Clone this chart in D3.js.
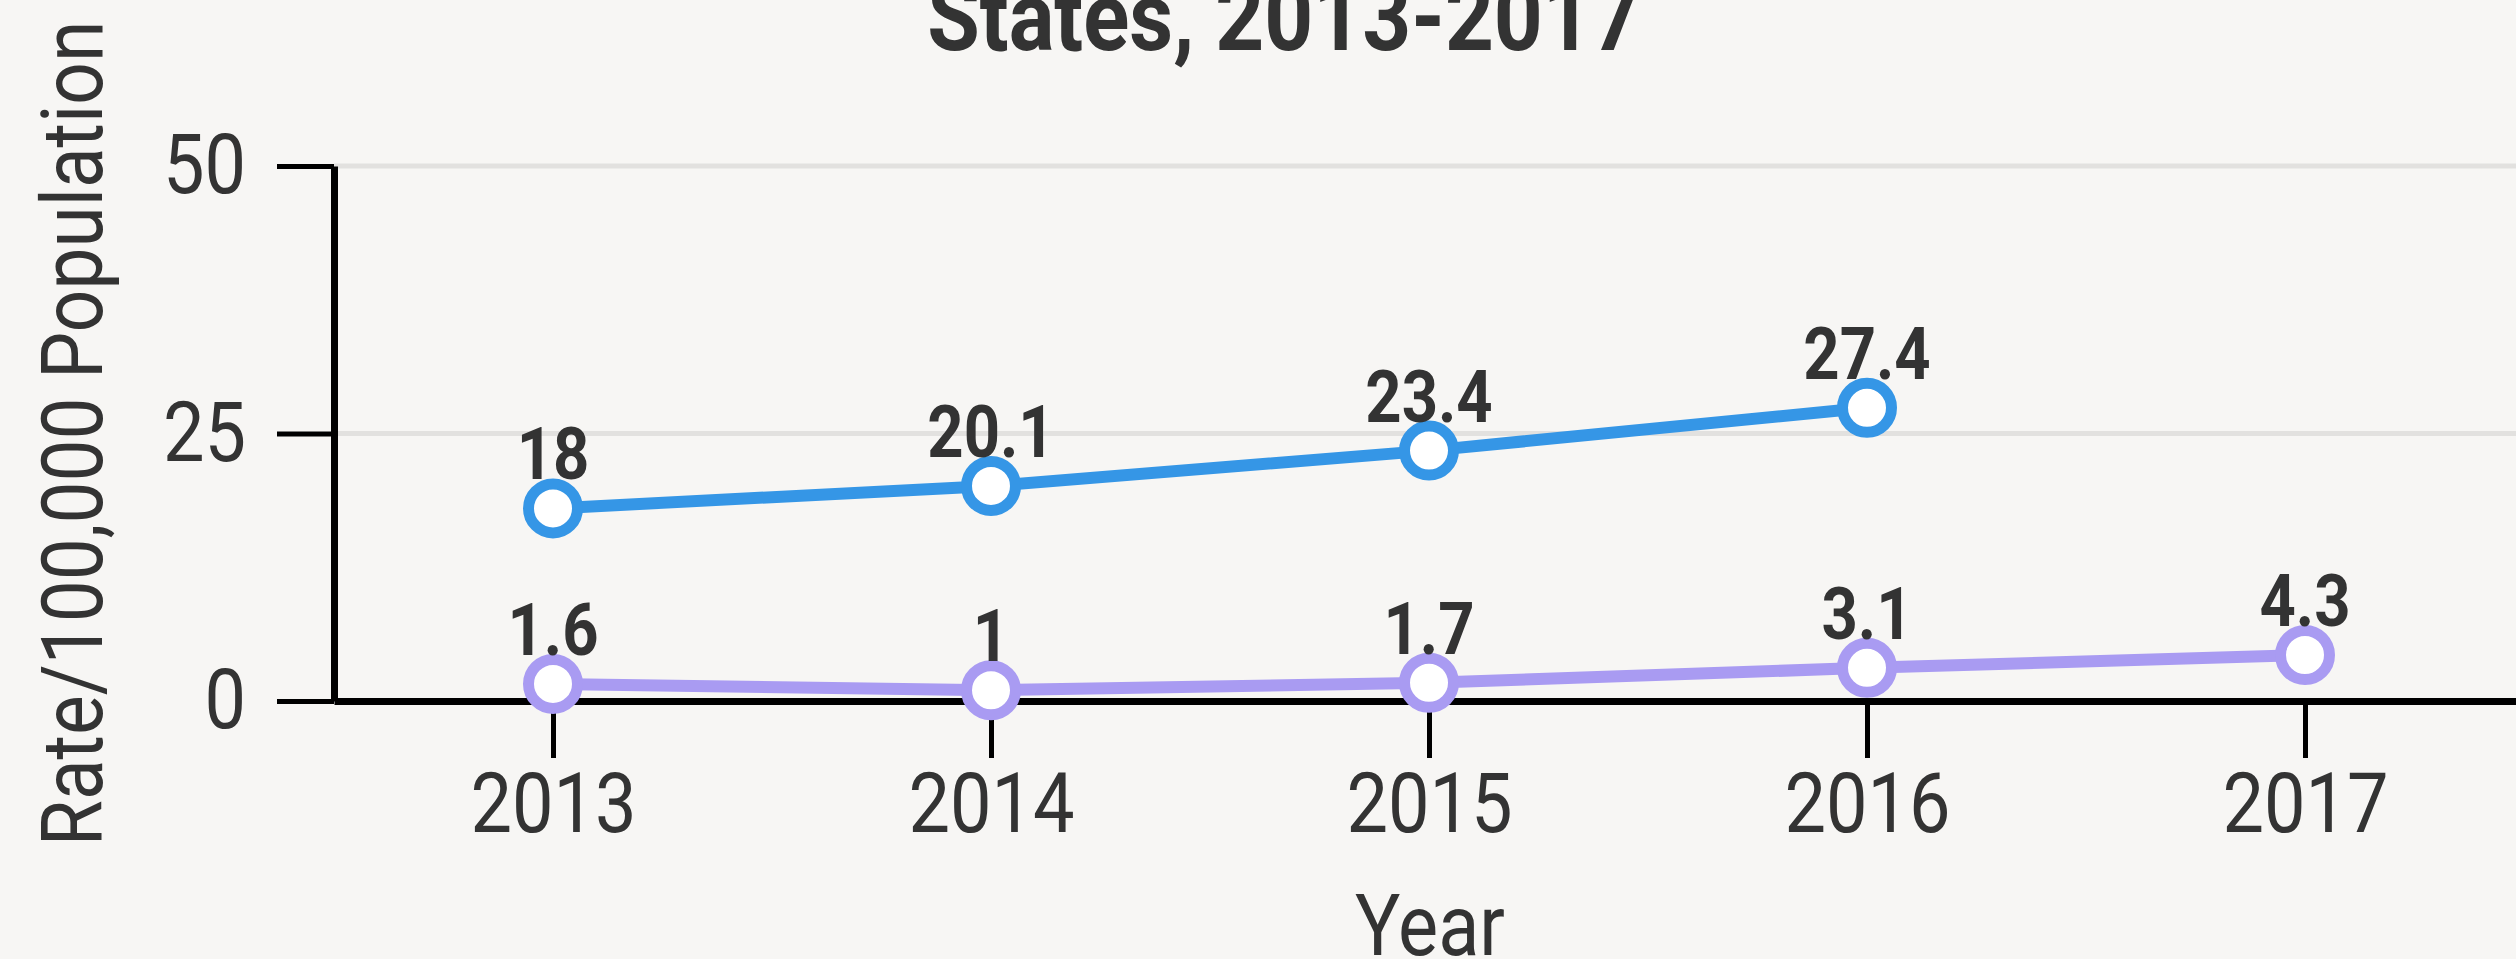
<!DOCTYPE html>
<html>
<head>
<meta charset="utf-8">
<script src="https://cdnjs.cloudflare.com/ajax/libs/d3/7.8.5/d3.min.js"></script>
<style>
  body { margin: 0; background: #f7f6f4; overflow: hidden; }
  text { font-family: Roboto, sans-serif; fill: #333; }
</style>
</head>
<body>
<svg id="chart"></svg>
<script>
// data
var years = [2013, 2014, 2015, 2016, 2017];
var rateBlue = [18, 20.1, 23.4, 27.4, null];
var ratePurple = [1.6, 1, 1.7, 3.1, 4.3];
var yTicks = [0, 25, 50];

var W = 2516, H = 959;
var squeeze = 0.88; // Roboto squeezed to look like the condensed face

var svg = d3.select("#chart")
  .attr("width", W)
  .attr("height", H);

svg.append("rect")
  .attr("width", W)
  .attr("height", H)
  .attr("fill", "#f7f6f4");

var x = d3.scalePoint()
  .domain(years)
  .range([334, 2524])
  .padding(0.5);

var y = d3.scaleLinear()
  .domain([0, 50])
  .range([701, 166]);

var condense = function(sel) {
  sel.each(function() {
    var w = this.getComputedTextLength();
    d3.select(this)
      .attr("textLength", w * squeeze)
      .attr("lengthAdjust", "spacingAndGlyphs");
  });
};

// grid lines
svg.append("g")
  .selectAll("line")
  .data(yTicks.filter(function(d) { return d > 0; }))
  .enter().append("line")
  .attr("x1", 334)
  .attr("x2", W)
  .attr("y1", function(d) { return y(d); })
  .attr("y2", function(d) { return y(d); })
  .attr("stroke", "#e2e1df")
  .attr("stroke-width", 5);

// axes
var xAxis = svg.append("g")
  .attr("transform", "translate(0," + y(0) + ")")
  .call(d3.axisBottom(x).tickSize(57).tickSizeOuter(0).tickPadding(14));

var yAxis = svg.append("g")
  .attr("transform", "translate(" + 334 + ",0)")
  .call(d3.axisLeft(y).tickValues(yTicks).tickSize(57).tickSizeOuter(0).tickPadding(31));

[xAxis, yAxis].forEach(function(g) {
  g.select(".domain").attr("stroke", "#000").attr("stroke-width", 7);
  g.selectAll(".tick line").attr("stroke", "#000").attr("stroke-width", 5);
  g.selectAll(".tick text")
    .attr("fill", "#333")
    .style("font-family", "Roboto, sans-serif")
    .style("font-size", "84px")
    .call(condense);
});

// lines and points
var series = [
  { values: rateBlue, color: "#3596e6" },
  { values: ratePurple, color: "#a99bf2" }
];

var line = d3.line()
  .defined(function(d) { return d.v != null; })
  .x(function(d) { return x(d.year); })
  .y(function(d) { return y(d.v); });

series.forEach(function(s) {
  var pts = years.map(function(yr, i) { return { year: yr, v: s.values[i] }; });
  var g = svg.append("g");

  g.append("path")
    .datum(pts)
    .attr("fill", "none")
    .attr("stroke", s.color)
    .attr("stroke-width", 12)
    .attr("d", line);

  var ok = pts.filter(function(d) { return d.v != null; });

  g.selectAll("circle")
    .data(ok)
    .enter().append("circle")
    .attr("cx", function(d) { return x(d.year); })
    .attr("cy", function(d) { return y(d.v); })
    .attr("r", 24.5)
    .attr("fill", "#fff")
    .attr("stroke", s.color)
    .attr("stroke-width", 11);

  g.selectAll("text")
    .data(ok)
    .enter().append("text")
    .attr("x", function(d) { return x(d.year); })
    .attr("y", function(d) { return y(d.v) - 29; })
    .attr("text-anchor", "middle")
    .style("font-size", "72px")
    .style("font-weight", "bold")
    .text(function(d) { return d.v; })
    .call(condense);
});

// title and axis titles
svg.append("text")
  .attr("x", 1284)
  .attr("y", 50)
  .attr("text-anchor", "middle")
  .style("font-size", "97px")
  .style("font-weight", "bold")
  .text("States, 2013-2017")
  .call(condense);

svg.append("text")
  .attr("x", 1430)
  .attr("y", 955)
  .attr("text-anchor", "middle")
  .style("font-size", "86px")
  .text("Year")
  .call(condense);

svg.append("text")
  .attr("transform", "translate(102," + y(25) + ") rotate(-90)")
  .attr("text-anchor", "middle")
  .style("font-size", "85px")
  .text("Rate/100,000 Population")
  .call(condense);
</script>
</body>
</html>
